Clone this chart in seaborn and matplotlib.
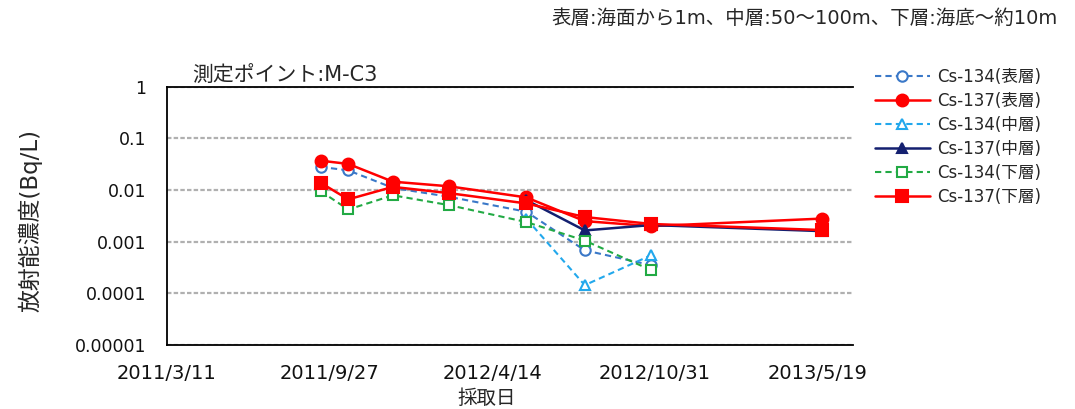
import numpy as np
import pandas as pd
import matplotlib
matplotlib.use("Agg")
import matplotlib.pyplot as plt
import seaborn as sns

# ---------------- data ----------------
dates = ['2011-09-16', '2011-10-20', '2011-12-14', '2012-02-21',
         '2012-05-26', '2012-08-06', '2012-10-27', '2013-05-25']
nan = np.nan
cs134_surface = [0.028, 0.024, 0.011, 0.0074, 0.0038, 0.00068, 0.00035, nan]
cs137_surface = [0.037, 0.032, 0.0145, 0.0118, 0.0072, 0.0025, 0.0020, 0.0028]
cs134_mid = [nan, nan, nan, nan, 0.0028, 0.000144, 0.00055, nan]
cs137_mid = [nan, nan, nan, nan, 0.0064, 0.00165, 0.0021, 0.0016]
cs134_bottom = [0.0095, 0.0042, 0.0079, 0.0051, 0.0024, 0.00105, 0.00028, nan]
cs137_bottom = [0.0138, 0.0066, 0.0115, 0.0087, 0.0055, 0.0030, 0.0022, 0.00168]

series_names = ['Cs-134(表層)', 'Cs-137(表層)', 'Cs-134(中層)',
                'Cs-137(中層)', 'Cs-134(下層)', 'Cs-137(下層)']
series_values = [cs134_surface, cs137_surface, cs134_mid,
                 cs137_mid, cs134_bottom, cs137_bottom]

x_tick_dates = ['2011-03-11', '2011-09-27', '2012-04-14', '2012-10-31', '2013-05-19']
x_tick_labels = ['2011/3/11', '2011/9/27', '2012/4/14', '2012/10/31', '2013/5/19']
y_ticks = [1, 0.1, 0.01, 0.001, 0.0001, 0.00001]
y_tick_labels = ['1', '0.1', '0.01', '0.001', '0.0001', '0.00001']
x_min, x_max = '2011-03-11', '2013-07-02'

title = '測定ポイント:M-C3'
note = '表層:海面から1m、中層:50～100m、下層:海底～約10m'
y_label = '放射能濃度(Bq/L)'
x_label = '採取日'

# ---------------- style ----------------
styles = [
    dict(color='#3a78c8', linestyle=(0, (3, 2)), marker='o', mfc='white', lw=1.5),
    dict(color='#ff0000', linestyle='-', marker='o', mfc='#ff0000', lw=1.8),
    dict(color='#22a8ec', linestyle=(0, (3, 2)), marker='^', mfc='white', lw=1.5),
    dict(color='#142070', linestyle='-', marker='^', mfc='#142070', lw=1.8),
    dict(color='#22aa44', linestyle=(0, (3, 2)), marker='s', mfc='white', lw=1.5),
    dict(color='#ff0000', linestyle='-', marker='s', mfc='#ff0000', lw=1.8),
]
msizes = [7.5, 8.5, 7.5, 7.5, 7, 8]

sns.set_style('white')
plt.rcParams['font.family'] = ['DejaVu Sans', 'Noto Sans CJK JP']

W, H = 1075, 409
fig = plt.figure(figsize=(W / 100, H / 100), dpi=100)
ax = fig.add_axes([167 / W, 1 - 345 / H, (853 - 167) / W, (345 - 86.7) / H])

dt = pd.to_datetime(dates)
for name, vals, st, ms in zip(series_names, series_values, styles, msizes):
    df = pd.DataFrame({'date': dt, 'value': vals}).dropna()
    sns.lineplot(data=df, x='date', y='value', ax=ax, color=st['color'],
                 linestyle=st['linestyle'], linewidth=st['lw'],
                 marker=st['marker'], markersize=ms,
                 markerfacecolor=st['mfc'], markeredgecolor=st['color'],
                 markeredgewidth=1.5, label=name, legend=False,
                 estimator=None, sort=False)

ax.set_yscale('log')
ax.set_ylim(1e-5, 1)
ax.set_yticks(y_ticks)
ax.set_yticklabels(y_tick_labels)
ax.yaxis.set_minor_locator(matplotlib.ticker.NullLocator())
ax.set_xlim(pd.Timestamp(x_min), pd.Timestamp(x_max))
ax.set_xticks(pd.to_datetime(x_tick_dates))
ax.set_xticklabels(x_tick_labels)

ax.yaxis.grid(True, color='#b0b0b0', linestyle=(0, (2, 1)), linewidth=1.6)
ax.xaxis.grid(False)
for s in ['left', 'bottom', 'top']:
    ax.spines[s].set_color('black')
    ax.spines[s].set_linewidth(1.3)
ax.spines['right'].set_visible(False)
ax.tick_params(axis='both', direction='in', length=5, width=1, colors='black',
               labelcolor='#111111')
ax.tick_params(axis='y', pad=15, length=0, labelsize=12.5)
ax.tick_params(axis='x', pad=14, labelsize=14)
ax.set_xlabel('')
ax.set_ylabel('')

fig.text(487 / W, 1 - 398 / H, x_label, ha='center', va='center', fontsize=14)
fig.text(30 / W, 1 - 220 / H, y_label, ha='center', va='center', fontsize=16.5,
         rotation=90)
fig.text(285 / W, 1 - 76 / H, title, ha='center', va='center', fontsize=15)
fig.text(1058 / W, 1 - 18 / H, note, ha='right', va='center', fontsize=14)

handles, labels = ax.get_legend_handles_labels()
fig.legend(handles, labels, loc='upper left', bbox_to_anchor=(868 / W, 1 - 61 / H),
           frameon=False, handlelength=3.3, labelspacing=0.36, fontsize=12,
           handletextpad=0.42, borderaxespad=0)

fig.savefig('out.png', dpi=100)
